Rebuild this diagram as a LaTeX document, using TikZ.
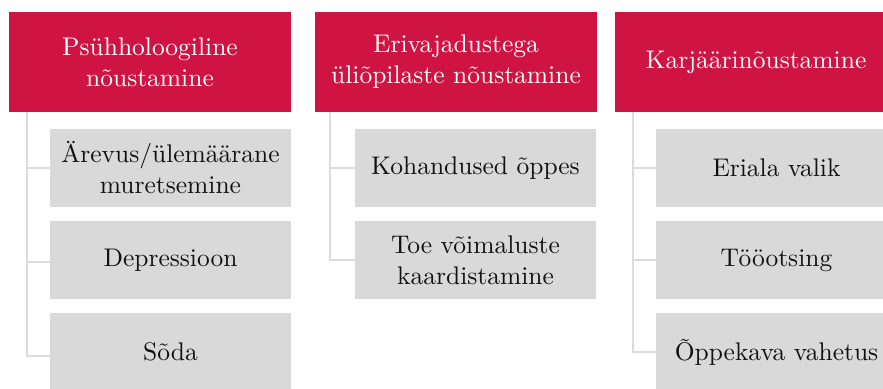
\documentclass[tikz,border=0pt]{standalone}
\usepackage{fontspec}
\setmainfont{lmroman10-regular.otf}
\definecolor{hdr}{HTML}{CF1443}
\definecolor{kid}{HTML}{D9D9D9}
\definecolor{lnk}{HTML}{DCDCDC}
\definecolor{txt}{HTML}{111111}
\begin{document}
\begin{tikzpicture}[x=1pt,y=-1pt,
  every node/.style={inner sep=0pt, outer sep=0pt, anchor=north west, align=center,
    font=\fontsize{25.5}{31}\selectfont},
  head/.style={fill=hdr, text=white, minimum width=282pt, minimum height=100pt, text width=278pt},
  item/.style={fill=kid, text=txt, minimum width=241pt, minimum height=78pt, text width=238pt},
  link/.style={draw=lnk, line width=2pt}]
\useasboundingbox (0,0) rectangle (883,388);
\clip (0,0) rectangle (883,388);
% column 1
\node[head] (h1) at (9,12) {Psühholoogiline\\nõustamine};
\node[item] (a1) at (50,129) {Ärevus/ülemäärane\\muretsemine};
\node[item] (a2) at (50,221) {Depressioon};
\node[item] (a3) at (50,313) {Sõda};
% column 2
\node[head] (h2) at (315,12) {Erivajadustega\\üliõpilaste nõustamine};
\node[item] (b1) at (355,129) {Kohandused õppes};
\node[item] (b2) at (355,221) {Toe võimaluste\\kaardistamine};
% column 3
\node[head] (h3) at (615,12) {Karjäärinõustamine};
\node[item] (c1) at (656,129) {Eriala valik};
\node[item] (c2) at (656,221) {Tööotsing};
\node[item] (c3) at (656,313) {Õppekava vahetus};
% connectors
\coordinate (v1) at (27,112);
\coordinate (v2) at (330,112);
\coordinate (v3) at (633,112);
\draw[link] (v1) |- ([yshift=-4pt]a3.west);
\draw[link] (v1 |- a1.west) -- (a1.west);
\draw[link] ([yshift=-2pt]v1 |- a2.west) -- ([yshift=-2pt]a2.west);
\draw[link] (v2) |- (b2.west);
\draw[link] (v2 |- b1.west) -- (b1.west);
\draw[link] (v3) |- (c3.west);
\draw[link] (v3 |- c1.west) -- (c1.west);
\draw[link] (v3 |- c2.west) -- (c2.west);
\end{tikzpicture}
\end{document}
